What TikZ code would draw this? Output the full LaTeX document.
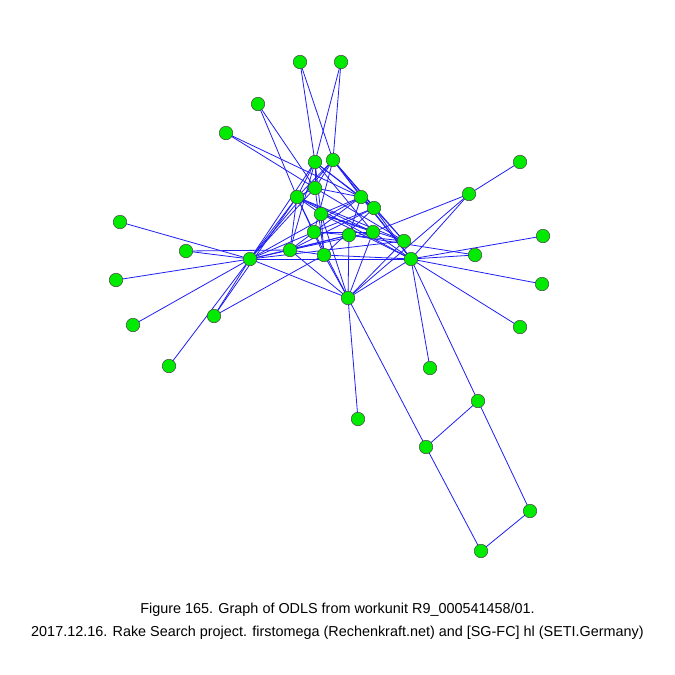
\documentclass[tikz,border=0pt]{standalone}
\usepackage{fontspec}
\setmainfont{Liberation Sans}
\definecolor{nodegreen}{RGB}{0,235,0}
\definecolor{edgeblue}{RGB}{30,30,245}
\definecolor{rimgray}{RGB}{70,70,70}
\begin{document}
\begin{tikzpicture}[x=1pt,y=-1pt,
  vtx/.style={circle,fill=nodegreen,draw=rimgray,line width=0.5pt,minimum size=13.5pt,inner sep=0pt},
  edg/.style={draw=edgeblue,line width=0.8pt},
  captext/.style={font=\fontsize{14.4}{17}\selectfont,inner sep=0pt}]
\useasboundingbox (0,0) rectangle (675,675);
\fill[white] (0,0) rectangle (675,675);
% nodes
\foreach \n/\x/\y in {
 A1/300/62, A2/341/62, A3/258/104, A4/226/133,
 B1/315/162, B2/333/160, B3/315/188, B4/297/197, B5/361/197, B6/374/208,
 B7/321/214, B8/314/232, B9/349/235, B10/373/232, B11/404/241, B12/290/250,
 B13/324/255, B14/250/259, B15/411/259, B16/348/298,
 L1/120/222, L2/186/251, L3/116/280, L4/133/325, L5/214/316, L6/169/366,
 R1/520/162, R2/469/194, R3/543/236, R4/475/255, R5/542/284, R6/520/327, R7/430/368,
 D1/358/419, D2/478/401, D3/426/447, D4/530/511, D5/481/551}
 {\coordinate (\n) at (\x,\y);}
% edges
\foreach \a/\b in {
 A1/B1, A1/B2, A2/B1, A2/B2, A3/B4, A3/B3, A4/B3, A4/B5,
 L1/B14, L2/B14, L2/B12, L3/B14, L4/B14, L5/B14, L5/B4, L5/B13, L6/B14,
 R1/R2, R2/B15, R2/B10, R2/B16, R3/B15, R4/B15, R4/B9, R5/B15, R6/B15, R7/B15,
 B15/D2, B16/D1, B16/D3, D2/D3, D2/D4, D3/D5, D4/D5,
 B1/B4, B1/B3, B1/B5, B1/B6, B1/B7, B1/B12, B1/B14, B1/B10,
 B2/B4, B2/B3, B2/B5, B2/B6, B2/B14, B2/B11, B2/B15, B2/B8,
 B3/B4, B3/B5, B3/B13, B3/B14, B3/B11,
 B4/B7, B4/B8, B4/B13, B4/B10, B4/B11, B4/B15, B4/B14, B4/B12,
 B5/B7, B5/B9, B5/B12, B5/B14, B5/B15, B5/B6,
 B6/B8, B6/B12, B6/B13, B6/B15, B6/B11,
 B7/B10, B7/B11, B7/B13, B7/B16, B7/B15,
 B8/B9, B8/B10, B8/B14, B8/B16,
 B9/B12, B9/B14, B9/B16, B9/B11,
 B10/B12, B10/B16, B10/B15,
 B11/B14, B11/B16,
 B12/B14, B12/B13, B12/B16,
 B13/B15, B13/B16,
 B14/B15, B14/B16, B15/B16}
 {\draw[edg] (\a) -- (\b);}
\foreach \n in {A1,A2,A3,A4,B1,B2,B3,B4,B5,B6,B7,B8,B9,B10,B11,B12,B13,B14,B15,B16,
 L1,L2,L3,L4,L5,L6,R1,R2,R3,R4,R5,R6,R7,D1,D2,D3,D4,D5}
 {\node[vtx] (v\n) at (\n) {};}
\node[captext] (t1) at (337.5,610) {Figure 165. Graph of ODLS from workunit R9\_000541458/01.};
\node[captext] (t2) at (337.5,633) {2017.12.16. Rake Search project. firstomega (Rechenkraft.net) and [SG-FC] hl (SETI.Germany)};
\end{tikzpicture}
\end{document}
